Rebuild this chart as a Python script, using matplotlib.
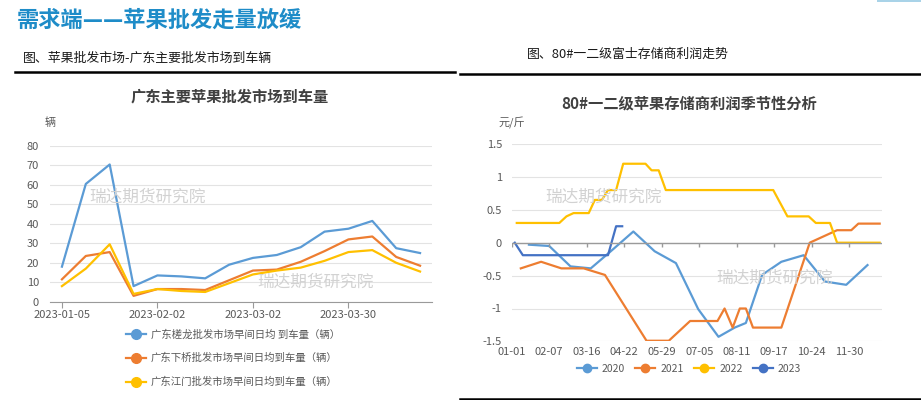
import matplotlib
matplotlib.use("Agg")
import matplotlib.pyplot as plt
from matplotlib.patches import Rectangle
import pandas as pd

plt.rcParams["font.family"] = ["Noto Sans CJK SC", "DejaVu Sans"]
plt.rcParams["axes.unicode_minus"] = False

# ---- left chart: weekly arrivals at Guangdong markets ----
weeks = ["2023-01-05", "2023-01-12", "2023-01-19", "2023-01-26",
         "2023-02-02", "2023-02-09", "2023-02-16", "2023-02-23",
         "2023-03-02", "2023-03-09", "2023-03-16", "2023-03-23",
         "2023-03-30", "2023-04-06", "2023-04-13", "2023-04-20"]
shalong = [18, 60.5, 70.5, 8, 13.5, 13, 12, 19, 22.5, 24, 28, 36, 37.5, 41.5, 27.5, 25]
xiaqiao = [11.5, 23.5, 25.5, 3, 6.5, 6.5, 6, 11, 16, 16.5, 20.5, 26, 32, 33.5, 23, 18.5]
jiangmen = [8, 17, 29.5, 4, 6.5, 5.5, 5, 9.5, 14, 16, 17.5, 21, 25.5, 26.5, 20, 15.5]
left_names = ["广东槎龙批发市场早间日均 到车量（辆）",
              "广东下桥批发市场早间日均到车量（辆）",
              "广东江门批发市场早间日均到车量（辆）"]

# ---- right chart: storage profit by day of year ----
day_2020 = [17, 37, 58, 78, 97, 120, 141, 162, 184, 204, 220, 231, 247, 266, 288, 309, 330, 351]
val_2020 = [-0.03, -0.05, -0.36, -0.39, -0.14, 0.17, -0.13, -0.31, -1.01, -1.43,
            -1.29, -1.22, -0.49, -0.29, -0.19, -0.59, -0.64, -0.34]
day_2021 = [9, 29, 49, 71, 92, 133, 155, 176, 203, 210, 218, 225, 231, 238, 266, 294, 321, 335, 342, 363]
val_2021 = [-0.39, -0.29, -0.39, -0.39, -0.49, -1.49, -1.49, -1.19, -1.19, -1.0,
            -1.29, -1.0, -1.0, -1.29, -1.29, 0.0, 0.19, 0.19, 0.29, 0.29]
day_2022 = [5, 47, 54, 61, 76, 82, 89, 95, 103, 110, 132, 138, 145, 152, 258, 272, 293, 300, 314, 321, 363]
val_2022 = [0.3, 0.3, 0.4, 0.45, 0.45, 0.65, 0.65, 0.8, 0.8, 1.2, 1.2, 1.1, 1.1, 0.8,
            0.8, 0.4, 0.4, 0.3, 0.3, 0.0, 0.0]
day_2023 = [3, 11, 95, 103, 109]
val_2023 = [0.0, -0.19, -0.19, 0.25, 0.25]
season_ticks = ["01-01", "02-07", "03-16", "04-22", "05-29",
                "07-05", "08-11", "09-17", "10-24", "11-30"]

BLUE, ORANGE, YELLOW, DARKBLUE = "#5b9bd5", "#ed7d31", "#ffc000", "#4472c4"
GRID, AXIS, LABEL = "#e3e3e3", "#9a9a9a", "#595959"
WM = "#d2d2d2"

W, H = 921, 400
fig = plt.figure(figsize=(W / 100, H / 100), dpi=100)


def px(x, y):
    return x / W, 1 - y / H


# page decoration
fig.text(*px(17, 20), "需求端——苹果批发走量放缓", fontsize=16, fontweight="bold",
         color="#1e8cc8", va="center", ha="left")
fig.text(*px(23, 58), "图、苹果批发市场-广东主要批发市场到车辆", fontsize=9.3,
         color="#1a1a1a", va="center", ha="left")
fig.text(*px(527, 54), "图、80#一二级富士存储商利润走势", fontsize=9.3,
         color="#1a1a1a", va="center", ha="left")
fig.add_artist(plt.Line2D([15 / W, 455 / W], [1 - 72 / H] * 2, color="black", lw=1.8))
fig.add_artist(plt.Line2D([460 / W, 1], [1 - 73.5 / H] * 2, color="black", lw=1.8))
fig.add_artist(plt.Line2D([460 / W, 1], [1 - 399 / H] * 2, color="black", lw=1.8))
fig.add_artist(Rectangle((877 / W, 1 - 2 / H), 44 / W, 2 / H, color="#a9d3e8", lw=0))

# ---------------- left chart ----------------
ax1 = fig.add_axes([50 / W, 1 - 301.7 / H, 382 / W, 155.7 / H])
idx = list(range(len(weeks)))
for vals, col in zip([shalong, xiaqiao, jiangmen], [BLUE, ORANGE, YELLOW]):
    ax1.plot(idx, vals, color=col, lw=1.6, solid_joinstyle="round")
ax1.set_xlim(-0.5, len(weeks) - 0.5)
ax1.set_ylim(0, 80)
ax1.set_yticks(range(0, 81, 10))
ax1.yaxis.grid(True, color=GRID, lw=0.8)
ax1.set_axisbelow(True)
for s in ["top", "right", "left"]:
    ax1.spines[s].set_visible(False)
ax1.spines["bottom"].set_color(AXIS)
ax1.set_xticks(idx[::4])
ax1.set_xticklabels(weeks[::4])
ax1.tick_params(axis="x", colors=AXIS, labelcolor=LABEL, labelsize=8, length=4, pad=2)
ax1.tick_params(axis="y", length=0, labelcolor=LABEL, labelsize=8, pad=8)
fig.text(*px(230, 96), "广东主要苹果批发市场到车量", fontsize=11, fontweight="bold",
         color="#404040", ha="center", va="center")
fig.text(*px(50, 123), "辆", fontsize=8, color=LABEL, ha="center", va="center")
fig.text(*px(147, 197), "瑞达期货研究院", fontsize=12, color=WM, ha="center", va="center")
fig.text(*px(315, 282), "瑞达期货研究院", fontsize=12, color=WM, ha="center", va="center")

h1 = [plt.Line2D([], [], color=c, lw=1.6, marker="o", ms=7) for c in [BLUE, ORANGE, YELLOW]]
fig.legend(h1, left_names, loc="upper left", bbox_to_anchor=px(126, 329),
           frameon=False, fontsize=7.5, handlelength=1.9, handletextpad=0.5,
           labelspacing=1.3, borderpad=0, borderaxespad=0, labelcolor=LABEL)

# ---------------- right chart ----------------
ax2 = fig.add_axes([511.7 / W, 1 - 341.4 / H, 370 / W, 197.4 / H])
series = [(day_2020, val_2020, BLUE, "2020"), (day_2021, val_2021, ORANGE, "2021"),
          (day_2022, val_2022, YELLOW, "2022"), (day_2023, val_2023, DARKBLUE, "2023")]
for d, v, col, name in series:
    ax2.plot(d, v, color=col, lw=1.6, solid_joinstyle="round")
ax2.set_xlim(0, 365)
ax2.set_ylim(-1.5, 1.5)
ax2.set_yticks([-1.5, -1, -0.5, 0, 0.5, 1, 1.5])
ax2.set_yticklabels(["-1.5", "-1", "-0.5", "0", "0.5", "1", "1.5"])
ax2.yaxis.grid(True, color=GRID, lw=0.8)
ax2.set_axisbelow(True)
for s in ax2.spines.values():
    s.set_visible(False)
ax2.axhline(0, color=AXIS, lw=1)
tick_pos = [pd.Timestamp("2021-" + t).dayofyear - 1 for t in season_ticks]
ax2.vlines(tick_pos, -0.06, 0, color=AXIS, lw=1)
ax2.set_xticks(tick_pos)
ax2.set_xticklabels(season_ticks)
ax2.tick_params(axis="x", length=0, labelcolor=LABEL, labelsize=8, pad=4)
ax2.tick_params(axis="y", length=0, labelcolor=LABEL, labelsize=8, pad=7)
fig.text(*px(689, 103), "80#一二级苹果存储商利润季节性分析", fontsize=11, fontweight="bold",
         color="#404040", ha="center", va="center")
fig.text(*px(512, 123), "元/斤", fontsize=8, color=LABEL, ha="center", va="center")
fig.text(*px(604, 197), "瑞达期货研究院", fontsize=12, color=WM, ha="center", va="center")
fig.text(*px(774, 278), "瑞达期货研究院", fontsize=12, color=WM, ha="center", va="center")

h2 = [plt.Line2D([], [], color=c, lw=1.6, marker="o", ms=6) for _, _, c, _ in series]
fig.legend(h2, [n for *_, n in series], loc="center", bbox_to_anchor=px(689, 369), ncol=4,
           frameon=False, fontsize=7.5, handlelength=1.9, handletextpad=0.5,
           columnspacing=1.0, borderpad=0, labelcolor=LABEL)

fig.savefig("out.png", dpi=100)
